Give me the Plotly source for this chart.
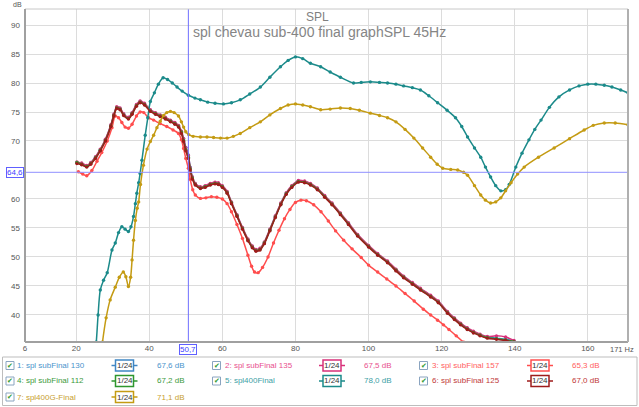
import plotly.graph_objects as go

# ---------------- data ----------------
freq_sub = [20.2, 21.5, 22.9, 24.0, 25.3, 26.6, 28.0, 29.5, 30.3, 31.1, 32.0, 33.0, 34.3, 35.3, 36.5, 37.5, 38.7,
            40.3, 41.7, 43.0, 44.4, 45.8, 47.0, 48.0, 48.8, 49.4, 50.0, 50.7, 51.2, 51.8, 52.6, 54.0, 55.3, 56.7,
            58.0, 58.9, 60.0, 61.3, 62.5, 64.0, 65.5, 67.0, 68.2, 69.2, 70.3, 71.5, 73.0, 74.5, 76.0, 77.5, 79.0,
            80.8, 82.5, 84.1, 86.0, 88.0, 90.0, 92.3, 94.5, 97.0, 100.0, 102.5, 105.2, 107.5, 109.6, 112.0, 114.2,
            117.0, 119.1, 121.6, 123.5, 125.2, 127.0, 128.7, 130.5, 132.5, 135.0, 137.5, 139.8]

spl_sub130 = [66.3, 66.1, 65.7, 66.2, 67.2, 68.5, 70.2, 72.7, 74.5, 75.8, 75.6, 74.6, 74.0, 74.8, 76.2, 76.8, 76.4,
              75.3, 74.8, 74.4, 74.0, 73.5, 73.1, 72.6, 71.6, 70.4, 68.9, 67.6, 65.5, 63.8, 62.6, 62.0, 62.2, 62.6,
              62.8, 62.7, 62.2, 61.2, 59.4, 57.2, 55.0, 53.0, 51.8, 51.2, 51.4, 52.5, 54.7, 57.0, 59.2, 61.0, 62.2,
              63.1, 63.0, 62.6, 61.8, 60.5, 59.2, 57.5, 55.8, 53.8, 51.9, 50.5, 49.2, 47.8, 46.6, 45.5, 44.5,
              43.3, 42.3, 40.5, 39.4, 38.5, 37.7, 37.1, 36.6, 36.2, 36.0, 35.8, 35.5]

spl_sub135 = [66.4, 66.2, 65.8, 66.3, 67.3, 68.6, 70.3, 72.8, 74.6, 75.9, 75.7, 74.7, 74.1, 74.9, 76.3, 76.9, 76.5,
              75.4, 74.9, 74.5, 74.1, 73.6, 73.2, 72.7, 71.7, 70.4, 68.8, 67.5, 65.4, 63.8, 62.7, 62.1, 62.3, 62.7,
              62.9, 62.8, 62.3, 61.3, 59.5, 57.3, 55.1, 53.1, 51.9, 51.3, 51.5, 52.6, 54.8, 57.1, 59.3, 61.1, 62.3,
              63.2, 63.1, 62.7, 61.9, 60.6, 59.3, 57.6, 55.9, 53.9, 52.0, 50.6, 49.3, 47.9, 46.7, 45.6, 44.6,
              43.4, 42.4, 40.6, 39.5, 38.6, 37.8, 37.2, 36.7, 36.3, 36.4, 36.2, 35.6]

spl_sub112 = [66.3, 66.0, 65.6, 66.1, 67.1, 68.4, 70.1, 72.6, 74.4, 75.7, 75.5, 74.5, 73.9, 74.7, 76.1, 76.7, 76.3,
              75.2, 74.7, 74.3, 73.9, 73.4, 73.0, 72.5, 71.5, 70.1, 68.5, 67.2, 65.2, 63.6, 62.5, 61.9, 62.1, 62.5,
              62.7, 62.6, 62.1, 61.1, 59.3, 57.1, 54.9, 52.9, 51.7, 51.1, 51.3, 52.4, 54.6, 56.9, 59.1, 60.9, 62.1,
              63.0, 62.9, 62.5, 61.7, 60.4, 59.1, 57.4, 55.7, 53.7, 51.8, 50.4, 49.1, 47.7, 46.5, 45.4, 44.4,
              43.2, 42.2, 40.4, 39.3, 38.4, 37.6, 37.0, 36.5, 36.1, 35.9, 35.7, 35.4]

spl_sub125 = [66.1, 65.9, 65.5, 66.0, 67.0, 68.3, 70.0, 72.5, 74.3, 75.6, 75.4, 74.4, 73.8, 74.6, 76.0, 76.6, 76.2,
              75.1, 74.6, 74.2, 73.8, 73.3, 72.9, 72.4, 71.3, 69.9, 68.3, 67.0, 65.0, 63.4, 62.4, 61.8, 62.0, 62.4,
              62.6, 62.5, 62.0, 61.0, 59.2, 57.0, 54.8, 52.8, 51.6, 51.0, 51.2, 52.3, 54.5, 56.8, 59.0, 60.8, 62.0,
              62.9, 62.8, 62.4, 61.6, 60.3, 59.0, 57.3, 55.6, 53.6, 51.7, 50.3, 49.0, 47.6, 46.4, 45.3, 44.3,
              43.1, 42.1, 40.3, 39.2, 38.3, 37.5, 36.9, 36.4, 36.0, 35.8, 35.6, 35.3]

freq_sub157 = [20.6, 21.8, 22.9, 24.3, 25.7, 27.0, 28.5, 29.8, 30.7, 31.6, 32.5, 33.4, 34.3, 35.3, 36.5, 37.5, 38.5,
               39.8, 41.2, 43.0, 44.8, 46.5, 48.0, 48.8, 49.4, 50.0, 50.7, 51.2, 51.9, 52.6, 54.0, 55.5, 57.0, 58.5,
               60.0, 61.3, 62.5, 64.0, 65.5, 67.0, 68.0, 68.8, 69.8, 71.0, 72.5, 74.0, 75.5, 77.0, 78.5, 80.0, 81.5,
               83.0, 85.0, 87.0, 89.0, 91.0, 93.2, 95.5, 98.0, 100.0, 102.5, 105.0, 107.5, 110.0, 112.5, 115.0,
               117.0, 118.9, 120.5, 122.0, 124.0, 126.0]
spl_sub157 = [64.7, 64.3, 64.0, 64.9, 66.5, 68.0, 70.0, 72.3, 74.3, 74.0, 73.2, 72.4, 72.2, 72.9, 74.3, 75.0, 74.9,
              74.0, 73.6, 73.0, 72.5, 71.9, 71.3, 70.2, 68.7, 67.0, 65.3, 63.4, 61.6, 60.7, 60.1, 60.2, 60.4, 60.3,
              60.0, 59.2, 57.8, 55.6, 53.2, 50.3, 48.4, 47.4, 47.3, 48.2, 50.0, 52.4, 54.6, 56.6, 58.2, 59.4, 59.8,
              59.7, 59.0, 57.8, 56.2, 54.5, 52.9, 51.4, 49.9, 48.6, 47.4, 46.2, 45.0, 43.7, 42.4, 41.0,
              40.0, 39.1, 38.3, 37.5, 36.4, 35.3]

freq_400 = [25.0, 25.5, 26.0, 26.6, 27.5, 28.5, 29.8, 30.7, 31.6, 32.5, 33.4, 34.3, 35.0, 35.7, 36.2, 36.6, 37.1,
            37.5, 38.0, 38.9, 39.6, 40.3, 41.4, 42.5, 43.8, 45.0, 46.3, 47.6, 49.0, 50.7, 52.5, 54.0, 56.0, 58.0,
            60.3, 62.5, 64.9, 67.5, 70.4, 73.0, 75.9, 78.0, 80.0, 82.0, 84.1, 86.9, 89.5, 92.3, 95.9, 98.0, 100.5,
            103.0, 105.2, 107.5, 109.6, 112.0, 114.2, 116.5, 118.9, 121.5, 123.8, 125.5, 127.1, 129.0, 130.7,
            132.0, 133.4, 134.8, 136.2, 137.5, 138.5, 140.3, 142.0, 143.9, 145.5, 147.2, 149.5, 152.1, 155.0,
            157.6, 160.0, 162.2, 164.5, 166.6, 169.0, 171.0]
spl_400 = [32.5, 35.3, 40.0, 44.3, 46.0, 47.3, 51.2, 52.4, 54.2, 55.2, 54.8, 54.4, 55.2, 57.0, 59.2, 61.0, 62.8,
           64.4, 66.7, 71.0, 74.0, 76.8, 78.3, 79.8, 80.9, 80.6, 80.0, 79.3, 78.6, 77.9, 77.4, 77.1, 76.7, 76.5,
           76.4, 76.6, 77.1, 78.1, 79.3, 81.0, 82.8, 83.9, 84.5, 84.2, 83.4, 82.8, 81.9, 81.0, 80.0, 80.1, 80.2,
           80.1, 80.0, 79.8, 79.5, 79.2, 78.8, 77.8, 76.6, 75.3, 74.0, 72.5, 70.7, 68.8, 67.2,
           65.5, 63.8, 62.3, 61.4, 61.6, 62.5, 65.5, 67.9, 70.2, 72.0, 73.6, 75.8, 77.6, 78.8,
           79.5, 79.8, 79.8, 79.6, 79.3, 78.8, 78.3]

freq_400g = [26.8, 27.2, 28.2, 29.3, 30.7, 31.8, 32.9, 33.6, 34.3, 34.9, 35.3, 35.7, 36.2, 36.7, 37.1, 37.6, 38.4,
             39.4, 40.3, 41.2, 42.1, 43.0, 43.9, 44.8, 45.8, 46.8, 48.0, 48.8, 49.4, 50.0, 50.8, 52.0, 54.0, 55.8,
             57.6, 59.5, 61.3, 63.0, 64.9, 67.5, 70.4, 73.0, 75.9, 78.0, 80.0, 82.0, 84.1, 86.9, 89.5, 92.3, 95.0,
             97.5, 100.5, 103.0, 105.2, 107.5, 110.0, 112.4, 114.8, 117.0, 118.8, 120.3, 122.5, 124.4, 126.0,
             127.1, 129.0, 130.7, 132.0, 133.4, 134.8, 136.2, 137.5, 139.0, 140.8, 142.6, 146.5, 150.8, 155.0,
             159.0, 161.5, 164.5, 167.5, 171.0]
spl_400g = [33.0, 35.3, 39.5, 42.6, 44.8, 46.5, 47.4, 46.6, 44.9, 46.5, 49.5, 52.9, 56.3, 58.4, 59.5, 62.5, 65.8,
            68.6, 69.9, 71.0, 72.3, 73.4, 74.4, 74.9, 75.1, 74.9, 74.3, 73.3, 72.4, 71.6, 71.1, 70.8, 70.7, 70.7,
            70.6, 70.5, 70.5, 70.8, 71.3, 72.3, 73.3, 74.5, 75.6, 76.2, 76.4, 76.2, 75.9, 75.4, 75.5, 75.7, 75.6,
            75.3, 74.8, 74.4, 74.0, 73.3, 72.0, 70.5, 68.8, 67.2, 66.0, 65.3, 65.1, 65.0, 64.6,
            64.1, 62.3, 60.7, 59.8, 59.3, 59.5, 60.2, 61.4, 62.8, 64.3, 65.5, 67.2, 68.8, 70.4,
            71.9, 72.7, 73.1, 73.1, 72.8]

series_names = ["1: spl subFinal 130", "2: spl subFinal 135", "3: spl subFinal 157", "4: spl subFinal 112",
                "5: spl400Final", "6: spl subFinal 125", "7: spl400G-Final"]
cursor_values = ["67,6 dB", "67,5 dB", "65,3 dB", "67,2 dB", "78,0 dB", "67,0 dB", "71,1 dB"]
smoothing_label = "1/24"

x_ticks = [6, 20, 40, 60, 80, 100, 120, 140, 160]
x_ticktext = ["6", "20", "40", "60", "80", "100", "120", "140", "160"]
x_end_label = "171 Hz"
x_min, x_max = 6, 171
y_ticks = [40, 45, 50, 55, 60, 70, 75, 80, 85, 90]

cursor_freq = 50.7
cursor_db = 64.6
cursor_freq_label = "50,7"
cursor_db_label = "64,6"

title_main = "SPL"
title_sub = "spl chevau sub-400 final graphSPL 45Hz"

# ---------------- styles ----------------
line_colors = ["#3f86c4", "#d8307a", "#ff4d4d", "#2e962e", "#1b8a8a", "#9e1b1b", "#c49b13"]
text_colors = ["#4a94cc", "#e8508e", "#ff6060", "#3c9a3c", "#40a0a6", "#c03838", "#c8a030"]

xs = [freq_sub, freq_sub, freq_sub157, freq_sub, freq_400, freq_sub, freq_400g]
ys = [spl_sub130, spl_sub135, spl_sub157, spl_sub112, spl_400, spl_sub125, spl_400g]

FONT = "Liberation Sans, Arial, sans-serif"
W, H = 639, 407
ML, MR, MT, MB = 25, 11, 9, 65
PW, PH = W - ML - MR, H - MT - MB


def PX(px):
    return (px - ML) / PW


def PY(py):
    return (H - MB - py) / PH


fig = go.Figure()
for i in range(7):
    fig.add_trace(go.Scatter(
        x=xs[i], y=ys[i], mode="lines+markers", name=series_names[i],
        line=dict(color=line_colors[i], width=1.5, shape="spline", smoothing=0.8),
        marker=dict(color=line_colors[i], size=3.4),
        showlegend=False, hoverinfo="skip"))

shapes = []
annotations = []

# cursor lines
shapes.append(dict(type="line", xref="x", yref="paper", x0=cursor_freq, x1=cursor_freq, y0=0, y1=1,
                   line=dict(color="#7070ff", width=1)))
shapes.append(dict(type="line", xref="paper", yref="y", x0=0, x1=1, y0=cursor_db, y1=cursor_db,
                   line=dict(color="#9090ff", width=1)))

# frame
shapes.append(dict(type="line", xref="paper", yref="paper", x0=0, x1=1, y0=1, y1=1,
                   line=dict(color="#c8c8c8", width=1)))
shapes.append(dict(type="line", xref="paper", yref="paper", x0=0, x1=0, y0=0, y1=1,
                   line=dict(color="#a0a0a0", width=2)))
shapes.append(dict(type="line", xref="paper", yref="paper", x0=0, x1=1, y0=0, y1=0,
                   line=dict(color="#a0a0a0", width=2)))
shapes.append(dict(type="line", xref="paper", yref="paper", x0=1, x1=1, y0=0, y1=1,
                   line=dict(color="#b0b0b0", width=2)))

# legend box
shapes.append(dict(type="rect", xref="paper", yref="paper", x0=PX(2.5), x1=PX(637), y0=PY(405.5), y1=PY(357),
                   line=dict(color="#bdbdbd", width=1), fillcolor="white", layer="below"))

col_box = [10, 216.5, 423.5]
col_name = [15, 222.5, 430]
col_icon = [124.5, 332, 540]
col_val = [171, 378, 586]
row_y = [365.5, 381, 397]

for i in range(7):
    r, c = divmod(i, 3)
    yy = row_y[r]
    shapes.append(dict(type="rect", xref="paper", yref="paper",
                       x0=PX(col_box[c] - 4), x1=PX(col_box[c] + 4), y0=PY(yy + 4), y1=PY(yy - 4),
                       line=dict(color="#8aa4c0", width=1), fillcolor="white"))
    annotations.append(dict(text="✔", xref="paper", yref="paper", x=PX(col_box[c]), y=PY(yy),
                            showarrow=False, font=dict(size=7, color="#2f9a2f", family="DejaVu Sans"),
                            xanchor="center", yanchor="middle"))
    annotations.append(dict(text=series_names[i], xref="paper", yref="paper", x=PX(col_name[c]), y=PY(yy),
                            showarrow=False, font=dict(size=8, color=text_colors[i], family=FONT),
                            xanchor="left", yanchor="middle"))
    ic = col_icon[c]
    shapes.append(dict(type="line", xref="paper", yref="paper", x0=PX(ic - 13), x1=PX(ic + 13),
                       y0=PY(yy), y1=PY(yy), line=dict(color=line_colors[i], width=1.5)))
    shapes.append(dict(type="rect", xref="paper", yref="paper", x0=PX(ic - 9), x1=PX(ic + 9),
                       y0=PY(yy + 5.5), y1=PY(yy - 5.5),
                       line=dict(color=line_colors[i], width=1.5), fillcolor="white"))
    annotations.append(dict(text=smoothing_label, xref="paper", yref="paper", x=PX(ic), y=PY(yy),
                            showarrow=False, font=dict(size=8, color="#333333", family=FONT),
                            xanchor="center", yanchor="middle"))
    annotations.append(dict(text=cursor_values[i], xref="paper", yref="paper", x=PX(col_val[c]), y=PY(yy),
                            showarrow=False, font=dict(size=8, color=text_colors[i], family=FONT),
                            xanchor="center", yanchor="middle"))

# titles
annotations.append(dict(text=title_main, xref="paper", yref="paper", x=PX(317), y=PY(17), showarrow=False,
                        font=dict(size=12, color="#808080", family=FONT), xanchor="center", yanchor="middle"))
annotations.append(dict(text=title_sub, xref="paper", yref="paper", x=PX(319), y=PY(32), showarrow=False,
                        font=dict(size=14, color="#858585", family=FONT), xanchor="center", yanchor="middle"))
annotations.append(dict(text="dB", xref="paper", yref="paper", x=PX(17), y=PY(4.5), showarrow=False,
                        font=dict(size=7, color="#555555", family=FONT), xanchor="center", yanchor="middle"))
annotations.append(dict(text=x_end_label, xref="paper", yref="paper", x=PX(636), y=PY(349), showarrow=False,
                        font=dict(size=7.5, color="#555555", family=FONT), xanchor="right", yanchor="middle"))

# cursor labels
annotations.append(dict(text=cursor_freq_label, xref="x", yref="paper", x=cursor_freq, y=PY(350),
                        showarrow=False, font=dict(size=8, color="#4040ff", family=FONT),
                        xanchor="center", yanchor="middle", bordercolor="#6060ff", borderwidth=1,
                        borderpad=0, bgcolor="white"))
annotations.append(dict(text=cursor_db_label, xref="paper", yref="y", x=PX(14.5), y=cursor_db,
                        showarrow=False, font=dict(size=8, color="#4040ff", family=FONT),
                        xanchor="center", yanchor="middle", bordercolor="#6060ff", borderwidth=1,
                        borderpad=0, bgcolor="white"))

fig.update_layout(
    width=W, height=H, margin=dict(l=ML, r=MR, t=MT, b=MB, pad=0),
    paper_bgcolor="white", plot_bgcolor="white",
    font=dict(family=FONT, size=8, color="#555555"),
    shapes=shapes, annotations=annotations,
    xaxis=dict(range=[x_min, x_max], tickvals=x_ticks, ticktext=x_ticktext, showgrid=True, gridcolor="#dcdcdc",
               gridwidth=1, zeroline=False, showline=False, ticks="", tickfont=dict(size=8, color="#555555")),
    yaxis=dict(range=[35.34, 92.76], tickvals=y_ticks, showgrid=True, gridcolor="#dcdcdc", gridwidth=1,
               zeroline=False, showline=False, ticks="", ticklabelstandoff=4,
               tickfont=dict(size=8, color="#555555")),
)

fig.write_html("out.html")
